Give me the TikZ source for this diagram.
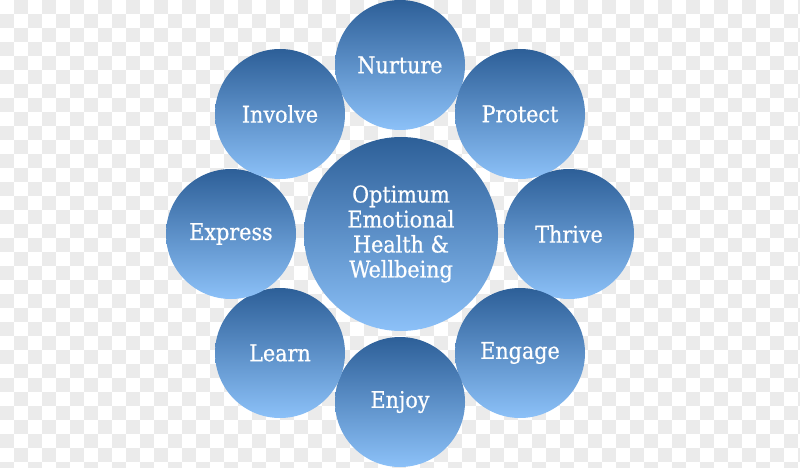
\documentclass[tikz,border=0pt]{standalone}
\usepackage{fontspec}
\setmainfont{DejaVu Serif Condensed}[FakeBold=0.6]
\definecolor{chk}{HTML}{EBEBEB}
\definecolor{ctop}{HTML}{2D5F98}
\definecolor{cbot}{HTML}{8CC1F8}
\begin{document}
\begin{tikzpicture}[x=1pt,y=-1pt,
  bubble/.style={circle, minimum size=130pt, inner sep=0pt, top color=ctop, bottom color=cbot, draw=none,
     text=white, font=\fontsize{23}{25}\selectfont},
  hub/.style={bubble, minimum size=194pt, font=\fontsize{23}{25}\selectfont, align=center}]
\useasboundingbox (0,0) rectangle (800,468);
\fill[white] (0,0) rectangle (800,468);
\foreach \i in {0,...,57}{
  \foreach \j in {0,...,33}{
    \pgfmathtruncatemacro{\parity}{mod(\i+\j,2)}
    \ifnum\parity=1
      \fill[chk] (\i*14,\j*14) rectangle ++(14,14);
    \fi
  }
}
\node[hub] (c) at (401,234) {Optimum\\Emotional\\Health \&\\Wellbeing};
\node[bubble] (n) at (400,65) {Nurture};
\node[bubble] (p) at (520,114) {Protect};
\node[bubble] (t) at (569,234) {Thrive};
\node[bubble] (g) at (520,353) {Engage};
\node[bubble] (e) at (400,402) {Enjoy};
\node[bubble] (l) at (280,353) {Learn};
\node[bubble] (x) at (231,234) {Express};
\node[bubble] (i) at (280,114) {Involve};
\end{tikzpicture}
\end{document}
